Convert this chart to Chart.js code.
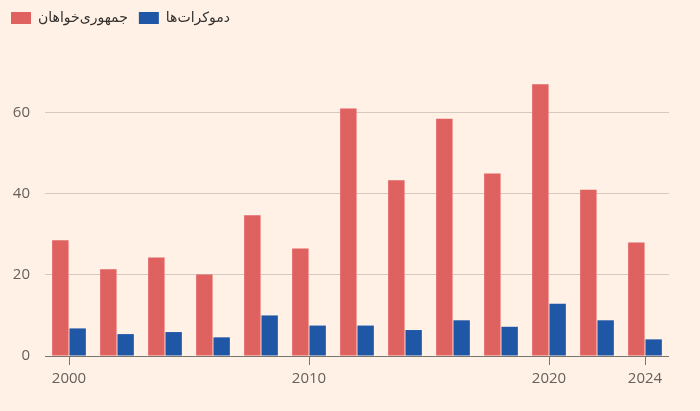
<!DOCTYPE html>
<html><head><meta charset="utf-8">
<script src="https://cdn.jsdelivr.net/npm/chart.js@4.4.1/dist/chart.umd.min.js"></script>
<style>html,body{margin:0;padding:0;background:#FFF1E5;}#wrap{width:700px;height:411px;position:relative;}</style>
</head><body><div id="wrap"><canvas id="c"></canvas></div>
<script>
const years = ['2000','2002','2004','2006','2008','2010','2012','2014','2016','2018','2020','2022','2024'];
const labeledYears = ['2000','2010','2020','2024'];
const seriesNames = ['جمهوری\u200cخواهان','دموکرات\u200cها'];
const republicans = [28.5,21.4,24.3,20.1,34.7,26.5,61,43.3,58.5,45,67,41,28];
const democrats = [6.8,5.4,5.9,4.6,10,7.5,7.5,6.4,8.8,7.2,12.9,8.8,4.1];
const yTicks = [0,20,40,60];

const LEGEND_H = 72;
const legendSpacer = {
  id: 'legendSpacer',
  beforeLayout(chart) {
    const lg = chart.legend;
    if (lg && !lg._patched) {
      const f = lg.fit.bind(lg);
      lg.fit = function () { f(); this.height = LEGEND_H; };
      lg._patched = true;
    }
  }
};

new Chart(document.getElementById('c'), {
  type: 'bar',
  data: {
    labels: years,
    datasets: [
      { label: seriesNames[0], data: republicans, backgroundColor: '#DF6160', categoryPercentage: 0.72, barPercentage: 0.95 },
      { label: seriesNames[1], data: democrats, backgroundColor: '#1F56A6', categoryPercentage: 0.72, barPercentage: 0.95 }
    ]
  },
  options: {
    responsive: true,
    maintainAspectRatio: false,
    animation: false,
    layout: { padding: { left: 0, right: 31, top: 0, bottom: 18 } },
    plugins: {
      legend: {
        position: 'top', align: 'start',
        labels: { boxWidth: 20, boxHeight: 12, padding: 11, color: '#33302E', font: { family: 'DejaVu Sans', size: 14 } }
      },
      tooltip: { enabled: false }
    },
    scales: {
      x: {
        grid: { offset: false, drawOnChartArea: false, drawTicks: true, tickLength: 9,
          color: c => (c.tick && labeledYears.includes(years[c.index])) ? '#7A7470' : 'rgba(0,0,0,0)' },
        border: { display: false },
        ticks: { autoSkip: false, maxRotation: 0, padding: 5, color: '#66605C', font: { family: 'Open Sans', size: 15 },
          callback: (v, i) => labeledYears.includes(years[i]) ? years[i] : '' }
      },
      y: {
        min: 0, max: 70,
        afterFit: s => { s.width = 45; },
        afterBuildTicks: s => { s.ticks = yTicks.map(v => ({ value: v })); },
        grid: { drawTicks: false, color: c => (c.tick && c.tick.value === 0) ? '#7A7470' : '#D6CAC0' },
        border: { display: false },
        ticks: { padding: 15, color: '#66605C', font: { family: 'Open Sans', size: 15 } }
      }
    }
  },
  plugins: [legendSpacer]
});
</script></body></html>
